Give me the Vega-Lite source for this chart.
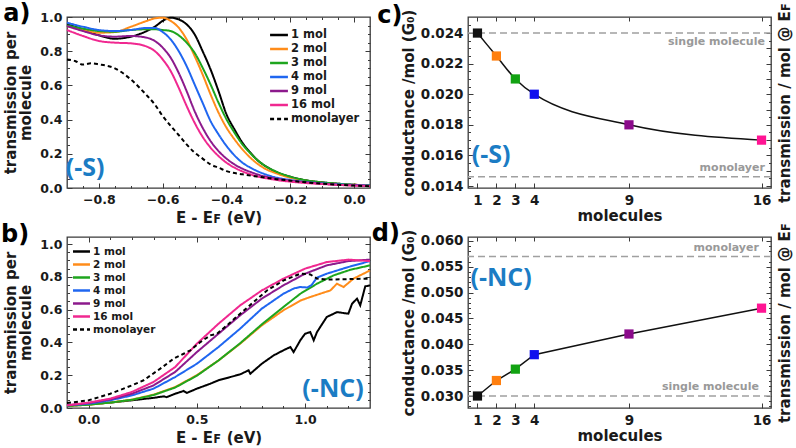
{
  "$schema": "https://vega.github.io/schema/vega-lite/v6.json",
  "padding": {"left": 0, "top": 1, "right": 0, "bottom": 0},
  "columns": 2,
  "spacing": {"row": 49, "column": 98},
  "bounds": "flush",
  "resolve": {"scale": {"color": "independent", "strokeDash": "independent"}, "legend": {"color": "independent", "strokeDash": "independent"}},
  "datasets": {
    "one": [{"k": 1}],
    "a": [
      {"x": -0.9, "1 mol": 0.957, "2 mol": 0.947, "3 mol": 0.951, "4 mol": 0.967, "9 mol": 0.947, "16 mol": 0.924},
      {"x": -0.85, "1 mol": 0.928, "2 mol": 0.924, "3 mol": 0.932, "4 mol": 0.943, "9 mol": 0.918, "16 mol": 0.889},
      {"x": -0.8, "1 mol": 0.893, "2 mol": 0.908, "3 mol": 0.918, "4 mol": 0.924, "9 mol": 0.893, "16 mol": 0.86},
      {"x": -0.75, "1 mol": 0.873, "2 mol": 0.912, "3 mol": 0.914, "4 mol": 0.918, "9 mol": 0.885, "16 mol": 0.85},
      {"x": -0.7, "1 mol": 0.885, "2 mol": 0.943, "3 mol": 0.924, "4 mol": 0.924, "9 mol": 0.889, "16 mol": 0.846},
      {"x": -0.65, "1 mol": 0.918, "2 mol": 0.977, "3 mol": 0.928, "4 mol": 0.936, "9 mol": 0.879, "16 mol": 0.827},
      {"x": -0.625, "1 mol": 0.943, "2 mol": 0.992, "3 mol": 0.928, "4 mol": 0.936, "9 mol": 0.86, "16 mol": 0.801},
      {"x": -0.6, "1 mol": 0.977, "2 mol": 0.996, "3 mol": 0.924, "4 mol": 0.912, "9 mol": 0.821, "16 mol": 0.752},
      {"x": -0.575, "1 mol": 0.996, "2 mol": 0.977, "3 mol": 0.918, "4 mol": 0.869, "9 mol": 0.762, "16 mol": 0.684},
      {"x": -0.55, "1 mol": 0.986, "2 mol": 0.938, "3 mol": 0.893, "4 mol": 0.801, "9 mol": 0.674, "16 mol": 0.587},
      {"x": -0.525, "1 mol": 0.957, "2 mol": 0.869, "3 mol": 0.85, "4 mol": 0.713, "9 mol": 0.567, "16 mol": 0.48},
      {"x": -0.5, "1 mol": 0.899, "2 mol": 0.772, "3 mol": 0.791, "4 mol": 0.606, "9 mol": 0.45, "16 mol": 0.382},
      {"x": -0.475, "1 mol": 0.801, "2 mol": 0.665, "3 mol": 0.704, "4 mol": 0.499, "9 mol": 0.353, "16 mol": 0.3},
      {"x": -0.45, "1 mol": 0.694, "2 mol": 0.548, "3 mol": 0.606, "4 mol": 0.392, "9 mol": 0.275, "16 mol": 0.236},
      {"x": -0.425, "1 mol": 0.567, "2 mol": 0.441, "3 mol": 0.499, "4 mol": 0.314, "9 mol": 0.216, "16 mol": 0.187},
      {"x": -0.4, "1 mol": 0.431, "2 mol": 0.353, "3 mol": 0.402, "4 mol": 0.246, "9 mol": 0.172, "16 mol": 0.148},
      {"x": -0.375, "1 mol": 0.343, "2 mol": 0.285, "3 mol": 0.324, "4 mol": 0.191, "9 mol": 0.138, "16 mol": 0.119},
      {"x": -0.35, "1 mol": 0.265, "2 mol": 0.226, "3 mol": 0.255, "4 mol": 0.148, "9 mol": 0.113, "16 mol": 0.097},
      {"x": -0.325, "1 mol": 0.207, "2 mol": 0.177, "3 mol": 0.203, "4 mol": 0.119, "9 mol": 0.094, "16 mol": 0.08},
      {"x": -0.3, "1 mol": 0.158, "2 mol": 0.138, "3 mol": 0.158, "4 mol": 0.096, "9 mol": 0.078, "16 mol": 0.066},
      {"x": -0.275, "1 mol": 0.125, "2 mol": 0.109, "3 mol": 0.125, "4 mol": 0.078, "9 mol": 0.066, "16 mol": 0.057},
      {"x": -0.25, "1 mol": 0.099, "2 mol": 0.09, "3 mol": 0.101, "4 mol": 0.064, "9 mol": 0.057, "16 mol": 0.049},
      {"x": -0.2, "1 mol": 0.066, "2 mol": 0.06, "3 mol": 0.066, "4 mol": 0.047, "9 mol": 0.043, "16 mol": 0.037},
      {"x": -0.15, "1 mol": 0.045, "2 mol": 0.043, "3 mol": 0.045, "4 mol": 0.035, "9 mol": 0.033, "16 mol": 0.029},
      {"x": -0.1, "1 mol": 0.033, "2 mol": 0.031, "3 mol": 0.033, "4 mol": 0.027, "9 mol": 0.025, "16 mol": 0.023},
      {"x": -0.05, "1 mol": 0.025, "2 mol": 0.023, "3 mol": 0.025, "4 mol": 0.021, "9 mol": 0.019, "16 mol": 0.018},
      {"x": 0, "1 mol": 0.019, "2 mol": 0.019, "3 mol": 0.019, "4 mol": 0.018, "9 mol": 0.016, "16 mol": 0.014},
      {"x": 0.05, "1 mol": 0.016, "2 mol": 0.016, "3 mol": 0.016, "4 mol": 0.014, "9 mol": 0.012, "16 mol": 0.012}
    ],
    "am": [
      {"s": "monolayer", "x": -0.9, "y": 0.752}, {"s": "monolayer", "x": -0.875, "y": 0.743},
      {"s": "monolayer", "x": -0.85, "y": 0.722}, {"s": "monolayer", "x": -0.825, "y": 0.729},
      {"s": "monolayer", "x": -0.8, "y": 0.723}, {"s": "monolayer", "x": -0.75, "y": 0.7},
      {"s": "monolayer", "x": -0.7, "y": 0.635}, {"s": "monolayer", "x": -0.65, "y": 0.542},
      {"s": "monolayer", "x": -0.625, "y": 0.489}, {"s": "monolayer", "x": -0.6, "y": 0.421},
      {"s": "monolayer", "x": -0.575, "y": 0.363}, {"s": "monolayer", "x": -0.55, "y": 0.31},
      {"s": "monolayer", "x": -0.525, "y": 0.255}, {"s": "monolayer", "x": -0.5, "y": 0.207},
      {"s": "monolayer", "x": -0.475, "y": 0.172}, {"s": "monolayer", "x": -0.45, "y": 0.138},
      {"s": "monolayer", "x": -0.425, "y": 0.119}, {"s": "monolayer", "x": -0.4, "y": 0.099},
      {"s": "monolayer", "x": -0.35, "y": 0.08}, {"s": "monolayer", "x": -0.3, "y": 0.066},
      {"s": "monolayer", "x": -0.25, "y": 0.053}, {"s": "monolayer", "x": -0.2, "y": 0.043},
      {"s": "monolayer", "x": -0.15, "y": 0.033}, {"s": "monolayer", "x": -0.1, "y": 0.025},
      {"s": "monolayer", "x": -0.05, "y": 0.019}, {"s": "monolayer", "x": 0, "y": 0.014},
      {"s": "monolayer", "x": 0.05, "y": 0.01}
    ],
    "b": [
      {"s": "1 mol", "x": -0.1, "y": 0.016}, {"s": "1 mol", "x": 0, "y": 0.022}, {"s": "1 mol", "x": 0.1, "y": 0.033},
      {"s": "1 mol", "x": 0.2, "y": 0.047}, {"s": "1 mol", "x": 0.3, "y": 0.062}, {"s": "1 mol", "x": 0.347, "y": 0.071},
      {"s": "1 mol", "x": 0.36, "y": 0.066}, {"s": "1 mol", "x": 0.4, "y": 0.087}, {"s": "1 mol", "x": 0.439, "y": 0.104},
      {"s": "1 mol", "x": 0.454, "y": 0.092}, {"s": "1 mol", "x": 0.5, "y": 0.118}, {"s": "1 mol", "x": 0.562, "y": 0.148},
      {"s": "1 mol", "x": 0.6, "y": 0.169}, {"s": "1 mol", "x": 0.655, "y": 0.189}, {"s": "1 mol", "x": 0.7, "y": 0.205},
      {"s": "1 mol", "x": 0.739, "y": 0.23}, {"s": "1 mol", "x": 0.747, "y": 0.209}, {"s": "1 mol", "x": 0.8, "y": 0.27},
      {"s": "1 mol", "x": 0.855, "y": 0.321}, {"s": "1 mol", "x": 0.9, "y": 0.352}, {"s": "1 mol", "x": 0.932, "y": 0.372},
      {"s": "1 mol", "x": 0.947, "y": 0.341}, {"s": "1 mol", "x": 0.978, "y": 0.413}, {"s": "1 mol", "x": 1.0, "y": 0.453},
      {"s": "1 mol", "x": 1.024, "y": 0.463}, {"s": "1 mol", "x": 1.04, "y": 0.413}, {"s": "1 mol", "x": 1.055, "y": 0.463},
      {"s": "1 mol", "x": 1.1, "y": 0.555}, {"s": "1 mol", "x": 1.148, "y": 0.585}, {"s": "1 mol", "x": 1.2, "y": 0.575},
      {"s": "1 mol", "x": 1.217, "y": 0.636}, {"s": "1 mol", "x": 1.24, "y": 0.667}, {"s": "1 mol", "x": 1.255, "y": 0.626},
      {"s": "1 mol", "x": 1.278, "y": 0.742}, {"s": "1 mol", "x": 1.3, "y": 0.748},
      {"s": "2 mol", "x": -0.1, "y": 0.012}, {"s": "2 mol", "x": 0, "y": 0.02}, {"s": "2 mol", "x": 0.1, "y": 0.033},
      {"s": "2 mol", "x": 0.2, "y": 0.051}, {"s": "2 mol", "x": 0.3, "y": 0.081}, {"s": "2 mol", "x": 0.4, "y": 0.128},
      {"s": "2 mol", "x": 0.5, "y": 0.2}, {"s": "2 mol", "x": 0.6, "y": 0.29}, {"s": "2 mol", "x": 0.7, "y": 0.392},
      {"s": "2 mol", "x": 0.8, "y": 0.504}, {"s": "2 mol", "x": 0.9, "y": 0.596}, {"s": "2 mol", "x": 0.978, "y": 0.655},
      {"s": "2 mol", "x": 1.024, "y": 0.677}, {"s": "2 mol", "x": 1.07, "y": 0.697}, {"s": "2 mol", "x": 1.117, "y": 0.717},
      {"s": "2 mol", "x": 1.147, "y": 0.758}, {"s": "2 mol", "x": 1.178, "y": 0.738}, {"s": "2 mol", "x": 1.224, "y": 0.789},
      {"s": "2 mol", "x": 1.3, "y": 0.839},
      {"s": "3 mol", "x": -0.1, "y": 0.012}, {"s": "3 mol", "x": 0, "y": 0.02}, {"s": "3 mol", "x": 0.1, "y": 0.033},
      {"s": "3 mol", "x": 0.2, "y": 0.05}, {"s": "3 mol", "x": 0.3, "y": 0.079}, {"s": "3 mol", "x": 0.4, "y": 0.125},
      {"s": "3 mol", "x": 0.5, "y": 0.197}, {"s": "3 mol", "x": 0.6, "y": 0.29}, {"s": "3 mol", "x": 0.7, "y": 0.395},
      {"s": "3 mol", "x": 0.8, "y": 0.51}, {"s": "3 mol", "x": 0.9, "y": 0.616}, {"s": "3 mol", "x": 0.978, "y": 0.697},
      {"s": "3 mol", "x": 1.055, "y": 0.758}, {"s": "3 mol", "x": 1.132, "y": 0.809}, {"s": "3 mol", "x": 1.209, "y": 0.843},
      {"s": "3 mol", "x": 1.3, "y": 0.87},
      {"s": "4 mol", "x": -0.1, "y": 0.016}, {"s": "4 mol", "x": 0, "y": 0.026}, {"s": "4 mol", "x": 0.1, "y": 0.047},
      {"s": "4 mol", "x": 0.2, "y": 0.077}, {"s": "4 mol", "x": 0.3, "y": 0.118}, {"s": "4 mol", "x": 0.4, "y": 0.189},
      {"s": "4 mol", "x": 0.5, "y": 0.27}, {"s": "4 mol", "x": 0.6, "y": 0.372}, {"s": "4 mol", "x": 0.7, "y": 0.484},
      {"s": "4 mol", "x": 0.8, "y": 0.606}, {"s": "4 mol", "x": 0.9, "y": 0.697}, {"s": "4 mol", "x": 0.95, "y": 0.73},
      {"s": "4 mol", "x": 0.978, "y": 0.738}, {"s": "4 mol", "x": 1.01, "y": 0.735}, {"s": "4 mol", "x": 1.03, "y": 0.75},
      {"s": "4 mol", "x": 1.055, "y": 0.795}, {"s": "4 mol", "x": 1.1, "y": 0.819}, {"s": "4 mol", "x": 1.2, "y": 0.86},
      {"s": "4 mol", "x": 1.3, "y": 0.896},
      {"s": "9 mol", "x": -0.1, "y": 0.016}, {"s": "9 mol", "x": 0, "y": 0.03}, {"s": "9 mol", "x": 0.1, "y": 0.053},
      {"s": "9 mol", "x": 0.2, "y": 0.087}, {"s": "9 mol", "x": 0.3, "y": 0.138}, {"s": "9 mol", "x": 0.4, "y": 0.22},
      {"s": "9 mol", "x": 0.5, "y": 0.341}, {"s": "9 mol", "x": 0.6, "y": 0.453}, {"s": "9 mol", "x": 0.7, "y": 0.565},
      {"s": "9 mol", "x": 0.8, "y": 0.667}, {"s": "9 mol", "x": 0.9, "y": 0.748}, {"s": "9 mol", "x": 1.0, "y": 0.819},
      {"s": "9 mol", "x": 1.1, "y": 0.87}, {"s": "9 mol", "x": 1.2, "y": 0.896}, {"s": "9 mol", "x": 1.3, "y": 0.905},
      {"s": "16 mol", "x": -0.1, "y": 0.016}, {"s": "16 mol", "x": 0, "y": 0.033}, {"s": "16 mol", "x": 0.1, "y": 0.057},
      {"s": "16 mol", "x": 0.2, "y": 0.098}, {"s": "16 mol", "x": 0.3, "y": 0.159}, {"s": "16 mol", "x": 0.4, "y": 0.25},
      {"s": "16 mol", "x": 0.5, "y": 0.392}, {"s": "16 mol", "x": 0.6, "y": 0.514}, {"s": "16 mol", "x": 0.7, "y": 0.626},
      {"s": "16 mol", "x": 0.8, "y": 0.717}, {"s": "16 mol", "x": 0.9, "y": 0.789}, {"s": "16 mol", "x": 1.0, "y": 0.85},
      {"s": "16 mol", "x": 1.1, "y": 0.89}, {"s": "16 mol", "x": 1.2, "y": 0.905}, {"s": "16 mol", "x": 1.3, "y": 0.896},
      {"s": "monolayer", "x": -0.1, "y": 0.03}, {"s": "monolayer", "x": 0, "y": 0.047}, {"s": "monolayer", "x": 0.1, "y": 0.087},
      {"s": "monolayer", "x": 0.2, "y": 0.138}, {"s": "monolayer", "x": 0.254, "y": 0.169}, {"s": "monolayer", "x": 0.331, "y": 0.24},
      {"s": "monolayer", "x": 0.393, "y": 0.301}, {"s": "monolayer", "x": 0.439, "y": 0.331}, {"s": "monolayer", "x": 0.47, "y": 0.352},
      {"s": "monolayer", "x": 0.516, "y": 0.402}, {"s": "monolayer", "x": 0.562, "y": 0.443}, {"s": "monolayer", "x": 0.593, "y": 0.453},
      {"s": "monolayer", "x": 0.639, "y": 0.504}, {"s": "monolayer", "x": 0.7, "y": 0.575}, {"s": "monolayer", "x": 0.762, "y": 0.646},
      {"s": "monolayer", "x": 0.824, "y": 0.717}, {"s": "monolayer", "x": 0.901, "y": 0.778}, {"s": "monolayer", "x": 0.978, "y": 0.819},
      {"s": "monolayer", "x": 1.024, "y": 0.815}, {"s": "monolayer", "x": 1.055, "y": 0.789}, {"s": "monolayer", "x": 1.101, "y": 0.783},
      {"s": "monolayer", "x": 1.3, "y": 0.789}
    ],
    "c": [
      {"n": 1, "g": 0.024}, {"n": 2, "g": 0.0225}, {"n": 3, "g": 0.021},
      {"n": 4, "g": 0.02}, {"n": 9, "g": 0.018}, {"n": 16, "g": 0.017}
    ],
    "d": [
      {"n": 1, "g": 0.03}, {"n": 2, "g": 0.033}, {"n": 3, "g": 0.0352},
      {"n": 4, "g": 0.038}, {"n": 9, "g": 0.042}, {"n": 16, "g": 0.047}
    ]
  },
  "concat": [
    {
      "width": 303, "height": 171,
      "resolve": {"axis": {"x": "independent", "y": "independent"}},
      "layer": [
        {
          "data": {"name": "a"},
          "transform": [{"fold": ["1 mol", "2 mol", "3 mol", "4 mol", "9 mol", "16 mol"], "as": ["s", "y"]}],
          "mark": {"type": "line", "strokeWidth": 2, "interpolate": "monotone"},
          "encoding": {
            "x": {"field": "x", "type": "quantitative", "scale": {"domain": [-0.9, 0.05], "nice": false, "zero": false}, "axis": {"values": [-0.85, -0.8, -0.75, -0.7, -0.65, -0.6, -0.55, -0.5, -0.45, -0.4, -0.35, -0.3, -0.25, -0.2, -0.15, -0.1, -0.05, 0], "format": ".1f", "labelExpr": "abs(datum.value*5 - round(datum.value*5)) < 0.01 ? datum.label : ''", "tickSize": {"condition": {"test": "abs(datum.value*5 - round(datum.value*5)) < 0.01", "value": -5}, "value": -2.5}, "title": "E - Eꜰ (eV)"}},
            "y": {"field": "y", "type": "quantitative", "scale": {"domain": [0, 1], "nice": false}, "axis": {"values": [0, 0.05, 0.1, 0.15, 0.2, 0.25, 0.3, 0.35, 0.4, 0.45, 0.5, 0.55, 0.6, 0.65, 0.7, 0.75, 0.8, 0.85, 0.9, 0.95, 1], "format": ".1f", "labelExpr": "abs(datum.value*5 - round(datum.value*5)) < 0.01 ? datum.label : ''", "tickSize": {"condition": {"test": "abs(datum.value*5 - round(datum.value*5)) < 0.01", "value": -5}, "value": -2.5}, "title": ["transmission per", "molecule"], "titlePadding": 6}},
            "color": {"field": "s", "type": "nominal", "scale": {"domain": ["1 mol", "2 mol", "3 mol", "4 mol", "9 mol", "16 mol", "monolayer"], "range": ["#000000", "#ff8c1a", "#1ea51e", "#1f66f0", "#8c1a8c", "#f02890", "#000000"]}, "legend": {"title": null, "orient": "top-right", "offset": 10, "labelFontSize": 11.5, "symbolType": "M-1.33,0H1.33", "symbolSize": 180, "rowPadding": -0.6, "labelOffset": 4}},
            "strokeDash": {"field": "s", "type": "nominal", "scale": {"domain": ["1 mol", "2 mol", "3 mol", "4 mol", "9 mol", "16 mol", "monolayer"], "range": [[1, 0], [1, 0], [1, 0], [1, 0], [1, 0], [1, 0], [4, 3]]}, "legend": {"title": null, "orient": "top-right", "offset": 10, "labelFontSize": 11.5, "symbolType": "M-1.33,0H1.33", "symbolSize": 180, "rowPadding": -0.6, "labelOffset": 4}}
          }
        },
        {
          "data": {"name": "am"},
          "mark": {"type": "line", "strokeWidth": 2, "interpolate": "monotone"},
          "encoding": {
            "x": {"field": "x", "type": "quantitative", "scale": {"domain": [-0.9, 0.05], "nice": false, "zero": false}, "axis": null},
            "y": {"field": "y", "type": "quantitative", "scale": {"domain": [0, 1], "nice": false}, "axis": null},
            "color": {"field": "s", "type": "nominal", "scale": {"domain": ["1 mol", "2 mol", "3 mol", "4 mol", "9 mol", "16 mol", "monolayer"], "range": ["#000000", "#ff8c1a", "#1ea51e", "#1f66f0", "#8c1a8c", "#f02890", "#000000"]}, "legend": {"title": null, "orient": "top-right", "offset": 10, "labelFontSize": 11.5, "symbolType": "M-1.33,0H1.33", "symbolSize": 180, "rowPadding": -0.6, "labelOffset": 4}},
            "strokeDash": {"field": "s", "type": "nominal", "scale": {"domain": ["1 mol", "2 mol", "3 mol", "4 mol", "9 mol", "16 mol", "monolayer"], "range": [[1, 0], [1, 0], [1, 0], [1, 0], [1, 0], [1, 0], [4, 3]]}, "legend": {"title": null, "orient": "top-right", "offset": 10, "labelFontSize": 11.5, "symbolType": "M-1.33,0H1.33", "symbolSize": 180, "rowPadding": -0.6, "labelOffset": 4}}
          }
        },
        {
          "data": {"name": "one"},
          "mark": {"type": "text", "text": "(-S)", "font": "Open Sans", "fontSize": 25, "fontWeight": "bold", "color": "#1b7cc4"},
          "encoding": {
            "x": {"datum": -0.843, "type": "quantitative", "scale": {"domain": [-0.9, 0.05], "nice": false, "zero": false}, "axis": {"orient": "top", "labels": false, "title": null, "tickSize": {"condition": {"test": "abs(datum.value*5 - round(datum.value*5)) < 0.01", "value": -5}, "value": -2.5}, "values": [-0.85, -0.8, -0.75, -0.7, -0.65, -0.6, -0.55, -0.5, -0.45, -0.4, -0.35, -0.3, -0.25, -0.2, -0.15, -0.1, -0.05, 0]}},
            "y": {"datum": 0.119, "type": "quantitative", "scale": {"domain": [0, 1], "nice": false}, "axis": {"orient": "right", "labels": false, "title": null, "tickSize": {"condition": {"test": "abs(datum.value*5 - round(datum.value*5)) < 0.01", "value": -5}, "value": -2.5}, "values": [0.05, 0.1, 0.15, 0.2, 0.25, 0.3, 0.35, 0.4, 0.45, 0.5, 0.55, 0.6, 0.65, 0.7, 0.75, 0.8, 0.85, 0.9, 0.95]}}
          }
        },
        {
          "data": {"name": "one"},
          "mark": {"type": "text", "text": "a)", "fontSize": 24, "fontWeight": "bold", "color": "#000000"},
          "encoding": {
            "x": {"datum": -1.057, "type": "quantitative", "scale": {"domain": [-0.9, 0.05], "nice": false, "zero": false}, "axis": null},
            "y": {"datum": 1.018, "type": "quantitative", "scale": {"domain": [0, 1], "nice": false}, "axis": null}
          }
        }
      ]
    },
    {
      "width": 303, "height": 171,
      "resolve": {"axis": {"x": "independent", "y": "independent"}},
      "layer": [
        {
          "data": {"values": [{"v": 0.024}, {"v": 0.0146}]},
          "mark": {"type": "rule", "color": "#a0a0a0", "strokeWidth": 1.5, "strokeDash": [7, 4]},
          "encoding": {
            "y": {"field": "v", "type": "quantitative", "scale": {"domain": [0.01387, 0.02505], "nice": false, "zero": false}, "axis": null}
          }
        },
        {
          "data": {"name": "c"},
          "mark": {"type": "line", "color": "#111111", "strokeWidth": 1.5, "interpolate": "monotone"},
          "encoding": {
            "x": {"field": "n", "type": "quantitative", "scale": {"domain": [0.5, 16.5], "nice": false, "zero": false}, "axis": {"values": [1, 2, 3, 4, 9, 16], "format": "d", "title": "molecules", "labelFontSize": 13.5}},
            "y": {"field": "g", "type": "quantitative", "scale": {"domain": [0.01387, 0.02505], "nice": false, "zero": false}, "axis": {"values": [0.014, 0.0145, 0.015, 0.0155, 0.016, 0.0165, 0.017, 0.0175, 0.018, 0.0185, 0.019, 0.0195, 0.02, 0.0205, 0.021, 0.0215, 0.022, 0.0225, 0.023, 0.0235, 0.024, 0.0245], "format": ".3f", "labelExpr": "abs(datum.value*500 - round(datum.value*500)) < 0.01 ? datum.label : ''", "tickSize": {"condition": {"test": "abs(datum.value*500 - round(datum.value*500)) < 0.01", "value": -5}, "value": -2.5}, "title": "conductance /mol (G₀)", "labelFontSize": 13.5, "titlePadding": 4}}
          }
        },
        {
          "data": {"name": "c"},
          "mark": {"type": "point", "shape": "square", "filled": true, "size": 85, "opacity": 1},
          "encoding": {
            "x": {"field": "n", "type": "quantitative", "scale": {"domain": [0.5, 16.5], "nice": false, "zero": false}, "axis": null},
            "y": {"field": "g", "type": "quantitative", "scale": {"domain": [0.01387, 0.02505], "nice": false, "zero": false}, "axis": null},
            "color": {"field": "n", "type": "nominal", "scale": {"domain": [1, 2, 3, 4, 9, 16], "range": ["#111111", "#ff7f0e", "#12a312", "#1010ee", "#8b0a8b", "#ff1493"]}, "legend": null}
          }
        },
        {
          "data": {"name": "one"},
          "mark": {"type": "text", "text": "(-S)", "font": "Open Sans", "fontSize": 25, "fontWeight": "bold", "color": "#1b7cc4"},
          "encoding": {
            "x": {"datum": 1.72, "type": "quantitative", "scale": {"domain": [0.5, 16.5], "nice": false, "zero": false}, "axis": {"orient": "top", "labels": false, "title": null, "tickSize": -4, "values": [1, 2, 3, 4, 9, 16]}},
            "y": {"datum": 0.01606, "type": "quantitative", "scale": {"domain": [0.01387, 0.02505], "nice": false, "zero": false}, "axis": {"orient": "right", "labels": false, "title": "transmission / mol @ Eꜰ", "titleAngle": 270, "titlePadding": 21, "tickSize": {"condition": {"test": "abs(datum.value*1000 - round(datum.value*1000)) < 0.01", "value": -5}, "value": -2.5}, "values": [0.014, 0.0145, 0.015, 0.0155, 0.016, 0.0165, 0.017, 0.0175, 0.018, 0.0185, 0.019, 0.0195, 0.02, 0.0205, 0.021, 0.0215, 0.022, 0.0225, 0.023, 0.0235, 0.024, 0.0245]}}
          }
        },
        {
          "data": {"values": [{"t": "single molecule", "v": 0.02343}, {"t": "monolayer", "v": 0.0152}]},
          "mark": {"type": "text", "fontSize": 11, "fontWeight": "bold", "color": "#999999", "align": "right"},
          "encoding": {
            "text": {"field": "t"},
            "x": {"datum": 16.18, "type": "quantitative", "scale": {"domain": [0.5, 16.5], "nice": false, "zero": false}, "axis": null},
            "y": {"field": "v", "type": "quantitative", "scale": {"domain": [0.01387, 0.02505], "nice": false, "zero": false}, "axis": null}
          }
        },
        {
          "data": {"name": "one"},
          "mark": {"type": "text", "text": "c)", "fontSize": 24, "fontWeight": "bold", "color": "#000000"},
          "encoding": {
            "x": {"datum": -3.63, "type": "quantitative", "scale": {"domain": [0.5, 16.5], "nice": false, "zero": false}, "axis": null},
            "y": {"datum": 0.02514, "type": "quantitative", "scale": {"domain": [0.01387, 0.02505], "nice": false, "zero": false}, "axis": null}
          }
        }
      ]
    },
    {
      "width": 303, "height": 171,
      "resolve": {"axis": {"x": "independent", "y": "independent"}},
      "layer": [
        {
          "data": {"name": "b"},
          "mark": {"type": "line", "strokeWidth": 2},
          "encoding": {
            "x": {"field": "x", "type": "quantitative", "scale": {"domain": [-0.1, 1.3], "nice": false, "zero": false}, "axis": {"values": [0, 0.1, 0.2, 0.3, 0.4, 0.5, 0.6, 0.7, 0.8, 0.9, 1.0, 1.1, 1.2], "format": ".1f", "labelExpr": "abs(datum.value*2 - round(datum.value*2)) < 0.01 ? datum.label : ''", "tickSize": {"condition": {"test": "abs(datum.value*2 - round(datum.value*2)) < 0.01", "value": -5}, "value": -2.5}, "title": "E - Eꜰ (eV)"}},
            "y": {"field": "y", "type": "quantitative", "scale": {"domain": [0, 1.043], "nice": false}, "axis": {"values": [0, 0.05, 0.1, 0.15, 0.2, 0.25, 0.3, 0.35, 0.4, 0.45, 0.5, 0.55, 0.6, 0.65, 0.7, 0.75, 0.8, 0.85, 0.9, 0.95, 1], "format": ".1f", "labelExpr": "abs(datum.value*5 - round(datum.value*5)) < 0.01 ? datum.label : ''", "tickSize": {"condition": {"test": "abs(datum.value*5 - round(datum.value*5)) < 0.01", "value": -5}, "value": -2.5}, "title": ["transmission per", "molecule"], "titlePadding": 6}},
            "color": {"field": "s", "type": "nominal", "scale": {"domain": ["1 mol", "2 mol", "3 mol", "4 mol", "9 mol", "16 mol", "monolayer"], "range": ["#000000", "#ff8c1a", "#1ea51e", "#1f66f0", "#8c1a8c", "#f02890", "#000000"]}, "legend": {"title": null, "orient": "top-left", "offset": 7, "labelFontSize": 10.5, "symbolType": "M-1.45,0H1.45", "symbolSize": 137, "rowPadding": -1.6, "labelOffset": 4}},
            "strokeDash": {"field": "s", "type": "nominal", "scale": {"domain": ["1 mol", "2 mol", "3 mol", "4 mol", "9 mol", "16 mol", "monolayer"], "range": [[1, 0], [1, 0], [1, 0], [1, 0], [1, 0], [1, 0], [4, 3]]}, "legend": {"title": null, "orient": "top-left", "offset": 7, "labelFontSize": 10.5, "symbolType": "M-1.45,0H1.45", "symbolSize": 137, "rowPadding": -1.6, "labelOffset": 4}}
          }
        },
        {
          "data": {"name": "one"},
          "mark": {"type": "text", "text": "(-NC)", "font": "Open Sans", "fontSize": 25, "fontWeight": "bold", "color": "#1b7cc4"},
          "encoding": {
            "x": {"datum": 1.129, "type": "quantitative", "scale": {"domain": [-0.1, 1.3], "nice": false, "zero": false}, "axis": {"orient": "top", "labels": false, "title": null, "tickSize": {"condition": {"test": "abs(datum.value*2 - round(datum.value*2)) < 0.01", "value": -5}, "value": -2.5}, "values": [0, 0.1, 0.2, 0.3, 0.4, 0.5, 0.6, 0.7, 0.8, 0.9, 1.0, 1.1, 1.2]}},
            "y": {"datum": 0.114, "type": "quantitative", "scale": {"domain": [0, 1.043], "nice": false}, "axis": {"orient": "right", "labels": false, "title": null, "tickSize": {"condition": {"test": "abs(datum.value*5 - round(datum.value*5)) < 0.01", "value": -5}, "value": -2.5}, "values": [0.05, 0.1, 0.15, 0.2, 0.25, 0.3, 0.35, 0.4, 0.45, 0.5, 0.55, 0.6, 0.65, 0.7, 0.75, 0.8, 0.85, 0.9, 0.95, 1.0]}}
          }
        },
        {
          "data": {"name": "one"},
          "mark": {"type": "text", "text": "b)", "fontSize": 24, "fontWeight": "bold", "color": "#000000"},
          "encoding": {
            "x": {"datum": -0.34, "type": "quantitative", "scale": {"domain": [-0.1, 1.3], "nice": false, "zero": false}, "axis": null},
            "y": {"datum": 1.058, "type": "quantitative", "scale": {"domain": [0, 1.043], "nice": false}, "axis": null}
          }
        }
      ]
    },
    {
      "width": 303, "height": 171,
      "resolve": {"axis": {"x": "independent", "y": "independent"}},
      "layer": [
        {
          "data": {"values": [{"v": 0.057}, {"v": 0.03}]},
          "mark": {"type": "rule", "color": "#a0a0a0", "strokeWidth": 1.5, "strokeDash": [7, 4]},
          "encoding": {
            "y": {"field": "v", "type": "quantitative", "scale": {"domain": [0.02768, 0.06077], "nice": false, "zero": false}, "axis": null}
          }
        },
        {
          "data": {"name": "d"},
          "mark": {"type": "line", "color": "#111111", "strokeWidth": 1.5},
          "encoding": {
            "x": {"field": "n", "type": "quantitative", "scale": {"domain": [0.5, 16.5], "nice": false, "zero": false}, "axis": {"values": [1, 2, 3, 4, 9, 16], "format": "d", "title": "molecules", "labelFontSize": 13.5}},
            "y": {"field": "g", "type": "quantitative", "scale": {"domain": [0.02768, 0.06077], "nice": false, "zero": false}, "axis": {"values": [0.028, 0.029, 0.03, 0.031, 0.032, 0.033, 0.034, 0.035, 0.036, 0.037, 0.038, 0.039, 0.04, 0.041, 0.042, 0.043, 0.044, 0.045, 0.046, 0.047, 0.048, 0.049, 0.05, 0.051, 0.052, 0.053, 0.054, 0.055, 0.056, 0.057, 0.058, 0.059, 0.06], "format": ".3f", "labelExpr": "abs(datum.value*200 - round(datum.value*200)) < 0.01 ? datum.label : ''", "tickSize": {"condition": {"test": "abs(datum.value*200 - round(datum.value*200)) < 0.01", "value": -5}, "value": -2.5}, "title": "conductance /mol  (G₀)", "labelFontSize": 13.5, "titlePadding": 4}}
          }
        },
        {
          "data": {"name": "d"},
          "mark": {"type": "point", "shape": "square", "filled": true, "size": 85, "opacity": 1},
          "encoding": {
            "x": {"field": "n", "type": "quantitative", "scale": {"domain": [0.5, 16.5], "nice": false, "zero": false}, "axis": null},
            "y": {"field": "g", "type": "quantitative", "scale": {"domain": [0.02768, 0.06077], "nice": false, "zero": false}, "axis": null},
            "color": {"field": "n", "type": "nominal", "scale": {"domain": [1, 2, 3, 4, 9, 16], "range": ["#111111", "#ff7f0e", "#12a312", "#1010ee", "#8b0a8b", "#ff1493"]}, "legend": null}
          }
        },
        {
          "data": {"name": "one"},
          "mark": {"type": "text", "text": "(-NC)", "font": "Open Sans", "fontSize": 25, "fontWeight": "bold", "color": "#1b7cc4"},
          "encoding": {
            "x": {"datum": 2.25, "type": "quantitative", "scale": {"domain": [0.5, 16.5], "nice": false, "zero": false}, "axis": {"orient": "top", "labels": false, "title": null, "tickSize": -4, "values": [1, 2, 3, 4, 9, 16]}},
            "y": {"datum": 0.0529, "type": "quantitative", "scale": {"domain": [0.02768, 0.06077], "nice": false, "zero": false}, "axis": {"orient": "right", "labels": false, "title": "transmission / mol @ Eꜰ", "titleAngle": 270, "titlePadding": 21, "tickSize": {"condition": {"test": "abs(datum.value*200 - round(datum.value*200)) < 0.01", "value": -5}, "value": -2.5}, "values": [0.028, 0.029, 0.03, 0.031, 0.032, 0.033, 0.034, 0.035, 0.036, 0.037, 0.038, 0.039, 0.04, 0.041, 0.042, 0.043, 0.044, 0.045, 0.046, 0.047, 0.048, 0.049, 0.05, 0.051, 0.052, 0.053, 0.054, 0.055, 0.056, 0.057, 0.058, 0.059, 0.06]}}
          }
        },
        {
          "data": {"values": [{"t": "monolayer", "v": 0.0586}, {"t": "single molecule", "v": 0.03165}]},
          "mark": {"type": "text", "fontSize": 11, "fontWeight": "bold", "color": "#999999", "align": "right"},
          "encoding": {
            "text": {"field": "t"},
            "x": {"datum": 15.86, "type": "quantitative", "scale": {"domain": [0.5, 16.5], "nice": false, "zero": false}, "axis": null},
            "y": {"field": "v", "type": "quantitative", "scale": {"domain": [0.02768, 0.06077], "nice": false, "zero": false}, "axis": null}
          }
        },
        {
          "data": {"name": "one"},
          "mark": {"type": "text", "text": "d)", "fontSize": 24, "fontWeight": "bold", "color": "#000000"},
          "encoding": {
            "x": {"datum": -3.84, "type": "quantitative", "scale": {"domain": [0.5, 16.5], "nice": false, "zero": false}, "axis": null},
            "y": {"datum": 0.06135, "type": "quantitative", "scale": {"domain": [0.02768, 0.06077], "nice": false, "zero": false}, "axis": null}
          }
        }
      ]
    }
  ],
  "config": {
    "font": "DejaVu Sans",
    "view": {"stroke": "#3a3a3a", "strokeWidth": 1.3},
    "axis": {
      "grid": false, "domain": false,
      "labelFont": "DejaVu Sans", "labelFontWeight": "bold", "labelFontSize": 12.5, "labelColor": "#1a1a1a",
      "titleFont": "DejaVu Sans", "titleFontWeight": "bold", "titleFontSize": 15, "titleColor": "#1a1a1a", "titleLineHeight": 15,
      "tickColor": "#3a3a3a", "tickSize": -5, "tickWidth": 1, "labelPadding": 10, "titlePadding": 2,
      "labelFlush": false, "labelOverlap": false
    },
    "legend": {
      "labelFont": "DejaVu Sans", "labelFontWeight": "bold", "labelColor": "#1a1a1a",
      "symbolStrokeWidth": 2.5, "padding": 0
    },
    "text": {"font": "DejaVu Sans"}
  }
}
